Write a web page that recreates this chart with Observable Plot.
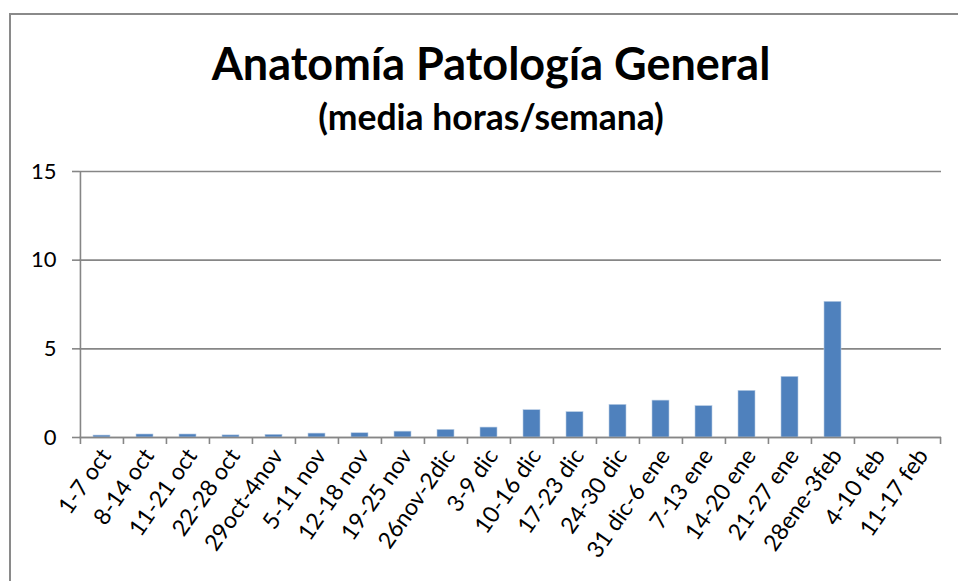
<!DOCTYPE html>
<html>
<head>
<meta charset="utf-8">
<script src="https://cdn.jsdelivr.net/npm/d3@7"></script>
<script src="https://cdn.jsdelivr.net/npm/@observablehq/plot@0.6"></script>
<style>
  html, body { margin: 0; padding: 0; background: #fff; }
  #wrap { position: relative; width: 958px; height: 581px; overflow: hidden; font-family: Lato, sans-serif; background: #fff; }
  #frame { position: absolute; left: 9px; top: 13px; width: 1000px; height: 700px; border-left: 2px solid #8a8a8a; border-top: 2px solid #8a8a8a; }
  #chart { position: absolute; left: 0; top: 0; }
  .title { position: absolute; left: 24px; width: 934px; text-align: center; font-weight: bold; color: #000; line-height: 1; white-space: nowrap; }
  #t1 { top: 41px; font-size: 45px; }
  #t2 { top: 99px; font-size: 35.5px; }
</style>
</head>
<body>
<div id="wrap">
  <div id="frame"></div>
  <div id="chart"></div>
  <div class="title" id="t1">Anatomía Patología General</div>
  <div class="title" id="t2">(media horas/semana)</div>
</div>
<script>
const categories = ["1-7 oct","8-14 oct","11-21 oct","22-28 oct","29oct-4nov","5-11 nov","12-18 nov","19-25 nov","26nov-2dic","3-9 dic","10-16 dic","17-23 dic","24-30 dic","31 dic-6 ene","7-13 ene","14-20 ene","21-27 ene","28ene-3feb","4-10 feb","11-17 feb"];
const values = [0.11,0.17,0.17,0.12,0.15,0.22,0.24,0.33,0.43,0.56,1.54,1.43,1.84,2.08,1.77,2.63,3.42,7.65,0,0];
const yTicks = [0,5,10,15];

const data = categories.map((c, i) => ({week: c, value: values[i]}));

const W = 958, H = 581, mL = 79, mR = 17, mT = 171, mB = 144;
const bw = (W - mL - mR) / categories.length; // band step in px
const axisGray = "#868686";

const chart = Plot.plot({
  width: W,
  height: H,
  marginLeft: mL,
  marginRight: mR,
  marginTop: mT,
  marginBottom: mB,
  style: {fontFamily: "Lato, sans-serif", fontSize: "22px", color: "#000", background: "transparent"},
  x: {type: "band", domain: categories, paddingInner: 0.6, paddingOuter: 0.3, label: null},
  y: {domain: [0, 15], label: null},
  marks: [
    Plot.gridY(yTicks, {stroke: axisGray, strokeOpacity: 1, strokeWidth: 1.6}),
    Plot.axisY(yTicks, {tickSize: 7, tickPadding: 16, stroke: axisGray, strokeWidth: 1.6, fill: "#000", fontSize: 22, label: null}),
    Plot.barY(data, {x: "week", y: "value", fill: "#4f81bd", stroke: "#b9cde5", strokeWidth: 0.6}),
    Plot.ruleY([0], {stroke: axisGray, strokeWidth: 1.6}),
    Plot.ruleX([categories[0]], {dx: -bw / 2, stroke: axisGray, strokeWidth: 1.6}),
    Plot.ruleX(categories, {x: d => d, y1: () => 0, y2: () => 0, insetTop: 0, insetBottom: -7, dx: -bw / 2, stroke: axisGray, strokeWidth: 1.6}),
    Plot.ruleX([categories[categories.length - 1]], {x: d => d, y1: () => 0, y2: () => 0, insetTop: 0, insetBottom: -7, dx: bw / 2, stroke: axisGray, strokeWidth: 1.6}),
    Plot.axisX({tickSize: 0, tickPadding: 14, tickRotate: -55, dx: 4, fill: "#000", fontSize: 23, label: null})
  ]
});
document.getElementById("chart").appendChild(chart);
</script>
</body>
</html>
